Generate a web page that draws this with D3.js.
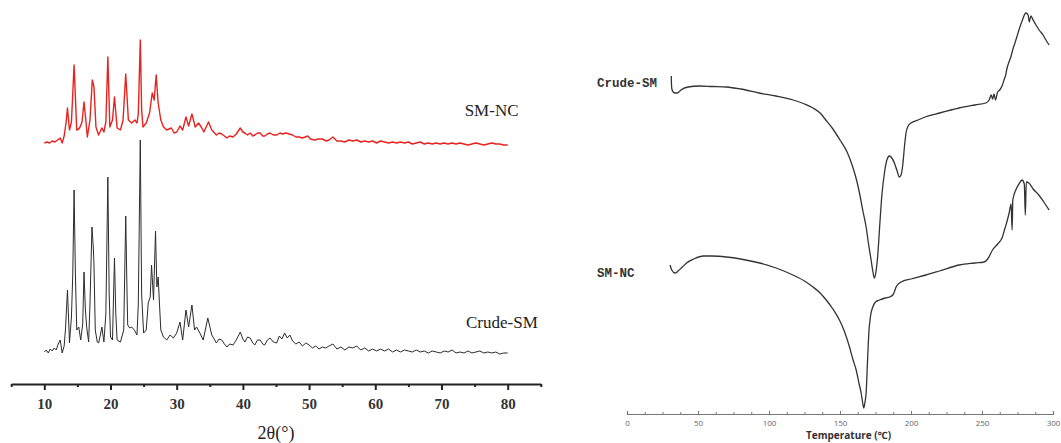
<!DOCTYPE html>
<html><head><meta charset="utf-8">
<script src="https://cdn.jsdelivr.net/npm/d3@7"></script>
<style>body{margin:0;background:#fff}svg{display:block}</style>
</head><body>
<svg id="chart" width="1061" height="443"></svg>
<script>
// ---------- XRD (left panel) ----------
const xrdTicks = [10,20,30,40,50,60,70,80];
const xrdMinorTicks = [5,15,25,35,45,55,65,75,85];
const xrdSeriesNames = ["SM-NC","Crude-SM"];
const xrdAxisTitle = "2θ(°)";
// [2θ, intensity (a.u., stacked)]
const smncXRD = [[10.0,241],[10.4,242],[10.8,241],[11.2,243],[11.6,242],[12.0,244],[12.4,246],[12.7,241],[13.0,248],[13.3,262],[13.5,276],[13.8,254],[14.1,262],[14.5,319],[14.9,254],[15.2,255],[15.4,257],[15.7,262],[16.0,282],[16.3,262],[16.5,247],[16.9,264],[17.25,304],[17.5,297],[17.8,257],[18.2,249],[18.7,256],[19.0,252],[19.3,262],[19.6,327],[19.9,257],[20.3,264],[20.6,287],[21.0,256],[21.5,254],[21.9,264],[22.3,310],[22.7,264],[23.2,261],[23.7,264],[24.0,261],[24.2,270],[24.5,344],[24.7,275],[24.9,257],[25.4,261],[25.9,271],[26.3,291],[26.6,284],[26.9,309],[27.2,281],[27.6,264],[28.0,257],[28.5,254],[29.2,256],[29.6,251],[30.0,252],[30.5,258],[30.9,254],[31.4,267],[31.8,258],[32.3,270],[32.8,257],[33.3,261],[33.8,256],[34.1,252],[34.8,262],[35.3,254],[36.0,249],[36.4,251],[36.8,250],[37.2,248],[37.6,246],[38.0,248],[38.5,247],[39.0,250],[39.6,256],[40.0,252],[40.3,251],[40.7,249],[41.1,251],[41.5,248],[41.8,249],[42.2,251],[42.6,251],[43.0,248],[43.3,248],[43.7,250],[44.1,251],[44.6,249],[45.1,249],[45.6,251],[46.0,250],[46.5,251],[47.0,250],[47.5,249],[48.0,247],[48.5,247],[49.0,246],[49.8,248],[50.2,245],[50.8,244],[51.4,245],[52.0,245],[52.6,243],[53.0,244],[53.6,247],[54.2,243],[54.8,243],[55.4,242],[56.0,244],[56.6,243],[57.2,244],[57.8,242],[58.4,243],[59.0,242],[59.6,243],[60.2,241],[60.8,243],[61.4,242],[62.0,241],[62.6,242],[63.2,241],[63.8,242],[64.4,241],[65.0,242],[65.6,240],[66.2,241],[66.8,242],[67.4,240],[68.0,241],[68.6,240],[69.2,241],[69.8,240],[70.4,241],[71.0,240],[71.6,241],[72.2,240],[72.8,241],[73.4,240],[74.0,239],[74.6,240],[75.2,241],[75.8,240],[76.4,239],[77.0,240],[77.6,241],[78.2,240],[78.8,240],[79.4,239],[80.0,239]];
const crudeXRD = [[10.0,32],[10.3,34],[10.6,31],[10.9,35],[11.2,33],[11.5,36],[11.8,34],[12.1,40],[12.4,44],[12.7,31],[13.0,38],[13.2,55],[13.5,94],[13.7,60],[13.8,41],[14.1,67],[14.3,110],[14.5,194],[14.7,110],[14.9,54],[15.2,57],[15.5,44],[15.8,60],[16.0,112],[16.2,75],[16.4,57],[16.7,42],[16.9,80],[17.2,157],[17.4,137],[17.5,120],[17.7,54],[18.0,42],[18.2,41],[18.5,50],[18.7,57],[19.0,42],[19.3,70],[19.6,207],[19.8,90],[20.0,47],[20.3,44],[20.6,126],[20.8,70],[21.0,44],[21.5,42],[22.0,54],[22.3,168],[22.5,90],[22.6,59],[22.9,56],[23.2,57],[23.6,54],[24.0,49],[24.2,80],[24.5,244],[24.7,90],[25.0,51],[25.4,54],[25.7,81],[26.0,87],[26.2,119],[26.5,84],[26.8,153],[27.0,97],[27.2,107],[27.4,80],[27.6,54],[28.0,47],[28.5,44],[29.0,49],[29.5,46],[30.0,51],[30.5,62],[30.9,44],[31.4,74],[31.8,57],[32.3,79],[32.7,54],[33.0,57],[33.5,51],[34.0,44],[34.7,66],[35.3,49],[36.0,41],[36.4,45],[36.8,44],[37.2,40],[37.6,37],[38.0,40],[38.5,39],[39.0,44],[39.6,52],[40.0,45],[40.3,42],[40.7,47],[41.1,46],[41.5,41],[41.8,39],[42.2,44],[42.6,44],[43.0,40],[43.3,39],[43.7,44],[44.1,46],[44.6,42],[45.1,41],[45.5,48],[45.9,45],[46.3,51],[46.7,46],[47.1,49],[47.5,43],[48.0,40],[48.5,42],[49.0,38],[49.5,41],[50.0,39],[50.5,36],[51.0,38],[51.5,35],[52.0,37],[52.5,36],[53.0,38],[53.6,40],[54.2,35],[54.8,37],[55.4,34],[56.0,37],[56.6,36],[57.2,38],[57.8,34],[58.4,36],[59.0,33],[59.6,35],[60.2,33],[60.8,35],[61.4,33],[62.0,35],[62.6,32],[63.2,34],[63.8,32],[64.4,34],[65.0,33],[65.6,32],[66.2,34],[66.8,32],[67.4,33],[68.0,31],[68.6,33],[69.2,32],[69.8,31],[70.4,33],[71.0,32],[71.6,34],[72.2,31],[72.8,32],[73.4,31],[74.0,33],[74.6,31],[75.2,32],[75.8,33],[76.4,31],[77.0,32],[77.6,31],[78.2,32],[78.8,30],[79.4,31],[80.0,31]];

// ---------- DSC (right panel) ----------
const dscTicks = [0,50,100,150,200,250,300];
const dscMinorTicks = [12.5,25,37.5,62.5,75,87.5,112.5,125,137.5,162.5,175,187.5,212.5,225,237.5,262.5,275,287.5];
const dscSeriesNames = ["Crude-SM","SM-NC"];
const dscAxisTitle = "Temperature (℃)";
// [T (°C), heat flow (a.u., stacked)]
const crudeDSC = [[31.2,338],[31.3,330],[31.6,325],[32.5,322],[34.0,321],[35.5,321],[38,324],[43,327],[51,328],[60,327.5],[70,327],[80,325],[93,321],[105,318],[117,314],[125,310],[131,306],[136,301],[140,294],[145,285],[150,274],[155,262],[159,247],[162,232],[164,219],[166,204],[168.4,187],[170,171],[171.9,154],[173.2,142],[174.2,136],[175.3,142],[176.6,159],[178,189],[179.5,219],[181.3,241],[183,254],[184.8,258],[186.5,256],[188.3,251],[190,244],[191.8,237],[193,239],[194.2,249],[195.5,269],[196.5,281],[198,288],[200,291],[205,294],[210,297],[220,301],[234,306],[245,309],[252.7,311],[255,314],[256.5,319],[257.5,315],[258.5,320],[259.5,314],[261,322],[262.5,324],[264.4,329],[265.5,334],[266.5,338],[267.5,345],[268.5,350],[270.3,357],[272,366],[273,370],[274.5,377],[276,384],[278.5,394],[280.8,401],[282.5,399],[283.3,392],[284.4,398],[286,394],[288,389],[290.2,384],[293,379],[295,374],[297.3,369]];
const smncDSC = [[30.3,149],[31.5,144],[33.8,141],[36,143],[39,147],[42,151],[47,155],[53.7,158],[60,158],[70,157],[80,155],[93.4,151],[105,146],[116.8,139],[125,133],[131,127],[136,121],[140.3,114],[145,105],[149.6,94],[153,83],[156.7,67],[159,55],[161.4,44],[163.5,30],[164.9,21],[166,11],[166.8,6],[167.6,12],[168.4,21],[169.3,50],[170.3,81],[171.5,98],[173.1,107],[175,112],[177.8,114],[182,116],[185,117],[187.2,119],[188.5,123],[189.5,127],[191,130],[193,132],[200,135],[210.5,139],[220,143],[233.9,149],[245,151],[251.5,152],[254,155],[257.4,164],[261,170],[264.4,177],[266,185],[267.5,192],[269.1,201],[270.5,210],[271.2,184],[271.7,214],[273.8,224],[276,230],[278.2,234],[279.8,230],[280.5,199],[281.2,232],[283,231],[286,225],[290,219],[293.5,212],[297.3,204]];

const svg = d3.select("#chart");

// ===== Left panel =====
const xX = d3.scaleLinear().domain([5,85]).range([11.2,540.8]);
const yX = d3.scaleLinear().domain([0,350]).range([384,34]);
const lineX = d3.line().x(d=>xX(d[0])).y(d=>yX(d[1]));

svg.append("path").datum(crudeXRD).attr("d",lineX)
  .attr("fill","none").attr("stroke","#2b2b2b").attr("stroke-width",1).attr("stroke-linejoin","round");
svg.append("path").datum(smncXRD).attr("d",lineX)
  .attr("fill","none").attr("stroke","#e8231f").attr("stroke-width",1.4).attr("stroke-linejoin","round");

const gxMinor = svg.append("g").attr("transform",`translate(0,${yX(0)})`)
  .call(d3.axisBottom(xX).tickValues(xrdMinorTicks).tickSize(3).tickFormat(""));
gxMinor.select(".domain").remove();
gxMinor.selectAll("line").attr("stroke","#222").attr("stroke-width",2);

const gx = svg.append("g").attr("transform",`translate(0,${yX(0)})`)
  .call(d3.axisBottom(xX).tickValues(xrdTicks).tickSize(6).tickSizeOuter(0).tickPadding(8).tickFormat(d3.format("d")));
gx.select(".domain").attr("stroke","#222").attr("stroke-width",2);
gx.selectAll(".tick line").attr("stroke","#222").attr("stroke-width",2);
gx.selectAll("text").attr("font-family","'Liberation Serif','Times New Roman',serif")
  .attr("font-size",15).attr("font-weight","bold").attr("fill","#333");

svg.append("text").attr("x",xX(45)).attr("y",439).attr("text-anchor","middle")
  .attr("font-family","'Liberation Serif','Times New Roman',serif").attr("font-size",18).attr("fill","#222")
  .text(xrdAxisTitle);

svg.append("text").attr("x",xX(73.5)).attr("y",yX(268)).attr("font-family","'Liberation Serif','Times New Roman',serif")
  .attr("font-size",17).attr("fill","#222").text(xrdSeriesNames[0]);
svg.append("text").attr("x",xX(73.7)).attr("y",yX(56)).attr("font-family","'Liberation Serif','Times New Roman',serif")
  .attr("font-size",17).attr("fill","#222").text(xrdSeriesNames[1]);

// ===== Right panel =====
const xD = d3.scaleLinear().domain([0,300]).range([627,1053]);
const yD = d3.scaleLinear().domain([0,400]).range([414,14]);
const lineD = d3.line().x(d=>xD(d[0])).y(d=>yD(d[1])).curve(d3.curveMonotoneX);

svg.append("path").datum(crudeDSC).attr("d",lineD)
  .attr("fill","none").attr("stroke","#333").attr("stroke-width",1.3).attr("stroke-linejoin","round");
svg.append("path").datum(smncDSC).attr("d",lineD)
  .attr("fill","none").attr("stroke","#333").attr("stroke-width",1.3).attr("stroke-linejoin","round");

const gdMinor = svg.append("g").attr("transform",`translate(0,${yD(0)})`)
  .call(d3.axisBottom(xD).tickValues(dscMinorTicks).tickSize(-2).tickFormat(""));
gdMinor.select(".domain").remove();
gdMinor.selectAll("line").attr("stroke","#777");

const gd = svg.append("g").attr("transform",`translate(0,${yD(0)})`)
  .call(d3.axisBottom(xD).tickValues(dscTicks).tickSize(-3).tickSizeOuter(-3).tickPadding(6).tickFormat(d3.format("d")));
gd.select(".domain").attr("stroke","#777").attr("stroke-width",1.2);
gd.selectAll(".tick line").attr("stroke","#777");
gd.selectAll("text").attr("font-family","'Open Sans','Noto Sans',sans-serif")
  .attr("font-size",8).attr("fill","#666");

svg.append("text").attr("x",xD(156)).attr("y",439).attr("text-anchor","middle")
  .attr("font-family","'Open Sans','Noto Sans',sans-serif").attr("font-weight","bold")
  .attr("font-size",10).attr("fill","#333").text(dscAxisTitle);

svg.append("text").attr("x",597).attr("y",yD(327)).attr("font-family","'Liberation Mono','Courier New',monospace")
  .attr("font-weight","bold").attr("font-size",12.5).attr("fill","#333").text(dscSeriesNames[0]);
svg.append("text").attr("x",597).attr("y",yD(137)).attr("font-family","'Liberation Mono','Courier New',monospace")
  .attr("font-weight","bold").attr("font-size",12.5).attr("fill","#333").text(dscSeriesNames[1]);
</script>
</body></html>
